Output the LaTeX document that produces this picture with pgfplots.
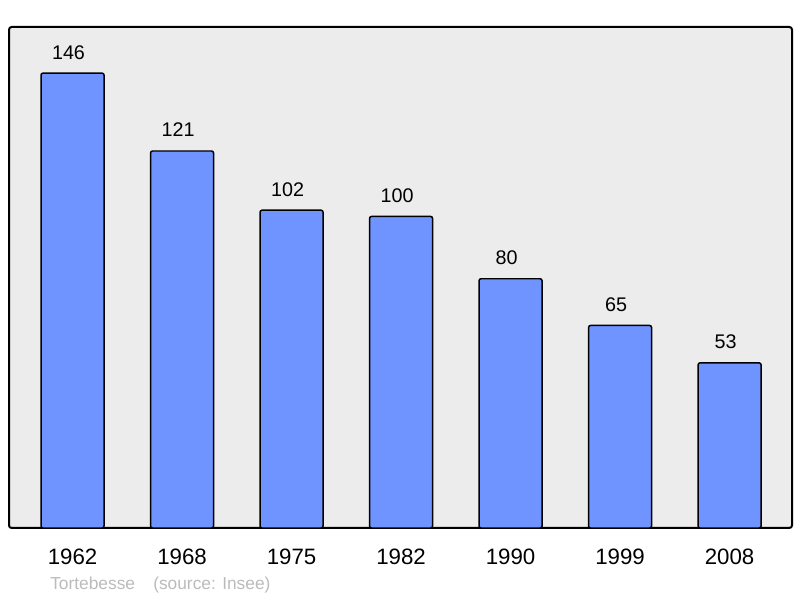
\documentclass[border=0pt]{standalone}
\usepackage{pgfplots}
\pgfplotsset{compat=1.18}
\usepackage{fontspec}
\setmainfont{Liberation Sans}
\definecolor{barblue}{RGB}{112,148,255}
\definecolor{bggray}{RGB}{236,236,236}
\definecolor{srcgray}{RGB}{187,187,187}
\begin{document}
\begin{tikzpicture}[x=0.75pt,y=0.75pt]
\useasboundingbox (-9,-70) rectangle (791,528);
\begin{axis}[
  at={(0,0)}, anchor=south west,
  scale only axis,
  width=587.25pt, height=375.75pt,
  xmin=-0.58, xmax=6.57,
  ymin=0, ymax=160.8,
  axis background/.style={fill=bggray},
  axis line style={line width=1.5pt, rounded corners=2pt},
  ybar, bar width=47.25pt,
  xtick=data,
  xticklabels={1962,1968,1975,1982,1990,1999,2008},
  xtick style={draw=none},
  ytick=\empty,
  xticklabel style={anchor=base, yshift=-23.25pt, font=\fontsize{16.7}{18}\selectfont},
  /pgf/number format/assume math mode=true,
  nodes near coords,
  every node near coord/.style={anchor=base, yshift=10.5pt, xshift=-3pt, font=\fontsize{14.8}{17}\selectfont, black},
  clip=false,
]
\addplot[fill=barblue, draw=black, line width=1.1pt, rounded corners=1.5pt] coordinates {
(0,146) (1,121) (2,102) (3,100) (4,80) (5,65) (6,53)};
\end{axis}
\node[anchor=base west, text=srcgray, font=\fontsize{13}{15}\selectfont, inner sep=0] at (41,-62) {Tortebesse};
\node[anchor=base west, text=srcgray, font=\fontsize{13}{15}\selectfont, inner sep=0] at (144,-62) {(source: Insee)};
\end{tikzpicture}
\end{document}
